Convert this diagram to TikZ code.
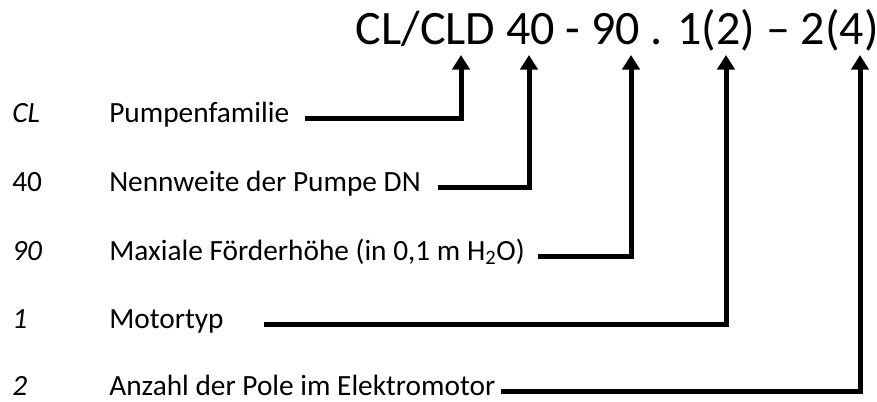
\documentclass[tikz,border=0pt]{standalone}
\usepackage{fontspec}
\setmainfont{Carlito}
\usetikzlibrary{arrows.meta}
\tikzset{code/.style={anchor=base west,inner sep=0pt,font=\fontsize{22}{24}\selectfont\itshape},descr/.style={anchor=base west,inner sep=0pt,font=\fontsize{22}{24}\selectfont},typecode/.style={anchor=base east,inner sep=0pt,font=\fontsize{36}{40}\selectfont},pointer/.style={-{Triangle[length=11pt,width=13pt]},line width=3.75pt}}
\begin{document}
\begin{tikzpicture}[x=.75pt,y=-.75pt]
 \useasboundingbox (0,0) rectangle (877,401);
 \node[typecode] (key) at (879,44) {CL/CLD 40 - 90 . 1(2) – 2(4)};

 \node[code] (c1) at (12,122) {CL};
 \node[descr] (c2) at (12,191) {40};
 \node[code] (c3) at (12,260) {90};
 \node[code] (c4) at (12,328) {1};
 \node[code] (c5) at (12,395) {2};

 \node[descr] (d1) at (109,122) {Pumpenfamilie};
 \node[descr] (d2) at (109,191) {Nennweite der Pumpe DN};
 \node[descr] (d3) at (109,260) {Maxiale Förderhöhe (in 0,1 m H\textsubscript{2}O)};
 \node[descr] (d4) at (109,328) {Motortyp};
 \node[descr] (d5) at (109,395) {Anzahl der Pole im Elektromotor};

 % arrow tips sit just below the matching characters of the type code
 \coordinate (t1) at (461,55);
 \coordinate (t2) at (529,55);
 \coordinate (t3) at (631,55);
 \coordinate (t4) at (726,55);
 \coordinate (t5) at (860,55);

 \foreach \lab/\tip/\gap in {d1/t1/12pt,d2/t2/13pt,d3/t3/10pt,d4/t4/30pt,d5/t5/4pt} {\draw[pointer] ([xshift=\gap]\lab.mid east) -| (\tip);}
\end{tikzpicture}
\end{document}
